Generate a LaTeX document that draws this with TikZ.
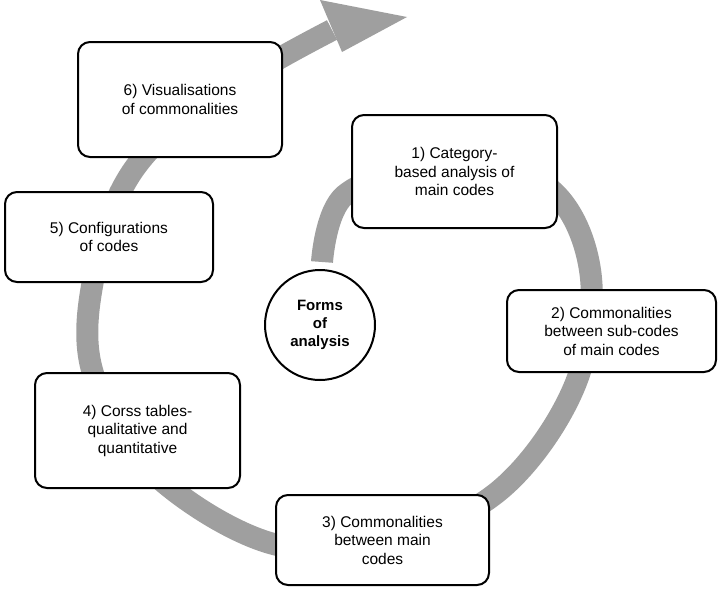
\documentclass[tikz,border=0pt]{standalone}
\usepackage{fontspec}
\setmainfont{Liberation Sans}
\usetikzlibrary{arrows.meta}
\begin{document}
\begin{tikzpicture}[x=1pt,y=-1pt,
  box/.style={draw=black,line width=2pt,rounded corners=12pt,fill=white,align=center,font=\fontsize{15.5}{18.5}\selectfont,inner sep=4pt},
  band/.style={draw=gray!75,line width=22pt}]
\useasboundingbox (0,0) rectangle (720,605);
\draw[band] plot[smooth,tension=0.6] coordinates{
 (322,262) (345,195) (440,165) (545,185) (590,270) (575,385) (500,490) (390,540) (270,543) (150,470) (92,370) (95,270) (130,175) (200,105) (280,58) (332,30)};
\coordinate (tip) at (407,17);
\fill[gray!75] (320,0) -- (tip) -- (342,52) -- cycle;
\node[box,minimum width=205pt,minimum height=113pt] (b1) at (454.5,171.5) {1) Category-\\based analysis of\\main codes};
\node[box,minimum width=209pt,minimum height=82pt] (b2) at (611.5,331) {2) Commonalities\\between sub-codes\\of main codes};
\node[box,minimum width=213pt,minimum height=90pt] (b3) at (382.5,540) {3) Commonalities\\between main\\codes};
\node[box,minimum width=205pt,minimum height=115pt] (b4) at (137.5,430.5) {4) Corss tables-\\qualitative and\\quantitative};
\node[box,minimum width=208pt,minimum height=90pt] (b5) at (109,237) {5) Configurations\\of codes};
\node[box,minimum width=204pt,minimum height=115pt] (b6) at (180,99.5) {6) Visualisations\\of commonalities};
\node[circle,draw=black,line width=2pt,fill=white,minimum size=110pt,align=center,font=\fontsize{15}{18}\selectfont\bfseries] (c) at (320,325) {Forms\\of\\analysis};
\end{tikzpicture}
\end{document}
